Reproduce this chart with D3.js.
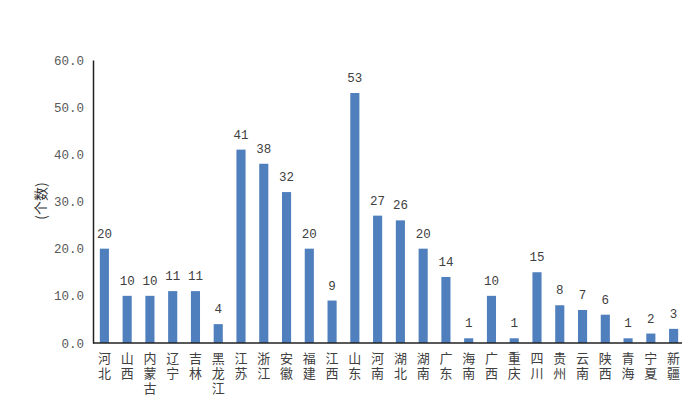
<!DOCTYPE html>
<html><head><meta charset="utf-8">
<script src="https://cdn.jsdelivr.net/npm/d3@7"></script>
<style>body{margin:0;background:#fff}</style>
</head><body>
<svg id="c" width="688" height="411"></svg>
<script>
const categories = ["河北","山西","内蒙古","辽宁","吉林","黑龙江","江苏","浙江","安徽","福建","江西","山东","河南","湖北","湖南","广东","海南","广西","重庆","四川","贵州","云南","陕西","青海","宁夏","新疆"];
const values = [20,10,10,11,11,4,41,38,32,20,9,53,27,26,20,14,1,10,1,15,8,7,6,1,2,3];
const yTicks = [0,10,20,30,40,50,60];
const yLabel = "(个数)";

(function(){
const svg = d3.select("#c");
const mL = 93, mR = 685, mT = 60, mB = 343;
const x = d3.scaleBand().domain(categories).range([mL, mR]).paddingInner(0.6).paddingOuter(0.3);
const y = d3.scaleLinear().domain([0,60]).range([mB, mT]);
const numFont = "'Liberation Mono','DejaVu Sans Mono',monospace";
const cjkFont = "'Noto Sans CJK SC','Noto Sans',sans-serif";

svg.selectAll("rect.bar").data(values).join("rect")
  .attr("class","bar")
  .attr("x",(d,i)=>x(categories[i]))
  .attr("y",d=>y(d))
  .attr("width",x.bandwidth())
  .attr("height",d=>mB-y(d))
  .attr("fill","#4f7fbc");

svg.selectAll("text.val").data(values).join("text")
  .attr("class","val")
  .attr("x",(d,i)=>x(categories[i])+x.bandwidth()/2)
  .attr("y",d=>y(d)-11)
  .attr("text-anchor","middle")
  .attr("font-family",numFont)
  .attr("font-size",12.5)
  .attr("fill","#404040")
  .text(d=>d);

const yAxis = d3.axisLeft(y).tickValues(yTicks).tickFormat(d=>d3.format(".1f")(d)).tickSize(0).tickPadding(9);
const gy = svg.append("g").attr("transform",`translate(${mL},0)`).call(yAxis);
gy.select(".domain").attr("stroke","#222").attr("stroke-width",1.5);
gy.selectAll("text").attr("font-family",numFont).attr("font-size",12.5).attr("fill","#595959");

svg.append("line").attr("x1",mL).attr("x2",682).attr("y1",mB).attr("y2",mB)
  .attr("stroke","#222").attr("stroke-width",1.5);

svg.append("g").selectAll("text").data(categories).join("text")
  .attr("x",d=>x(d)+x.bandwidth()/2)
  .attr("y",mB+9)
  .style("writing-mode","vertical-rl")
  .style("letter-spacing","2px")
  .attr("text-anchor","start")
  .attr("font-family",cjkFont).attr("font-size",13).attr("fill","#404040")
  .text(d=>d);

svg.append("text").attr("transform","translate(46,201) rotate(-90)")
  .attr("text-anchor","middle").attr("font-family",cjkFont).attr("font-size",14)
  .attr("fill","#333").text(yLabel);
})();
</script>
</body></html>
